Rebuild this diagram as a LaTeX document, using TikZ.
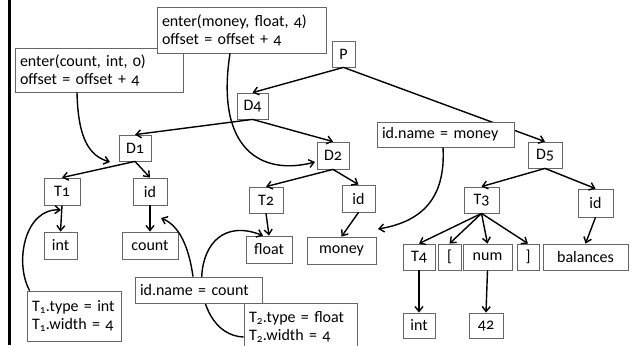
\documentclass[tikz,border=0pt]{standalone}
\usepackage{fontspec}
\setmainfont{Carlito}[Numbers=OldStyle]
\usetikzlibrary{arrows.meta}
\tikzset{
  box/.style={draw=black!60, line width=0.8pt, fill=white, inner sep=0pt,
    font=\fontsize{16}{18}\selectfont},
  tbox/.style={box, align=left, inner sep=5pt},
  edge/.style={line width=1.4pt, -{Straight Barb[length=5pt,width=8pt]}},
  curve/.style={line width=1.4pt, -{Straight Barb[length=5pt,width=8pt]}},
}
\newcommand\mybox[7][]{\node[box,#1,minimum width={(#5-#3)*1pt},minimum height={(#6-#4)*1pt}] (#2) at ({(#3+#5)/2},{(#4+#6)/2}) {#7};}
\begin{document}
\begin{tikzpicture}[x=1pt,y=-1pt]
\clip (0,0) rectangle (631,345);
\fill[white] (0,0) rectangle (631,345);
\draw[line width=2.5pt] (9.5,0) -- (9.5,345);
% tree nodes
\mybox{P}{332}{41}{355}{67}{P}
\mybox{D4}{237}{93}{268}{119}{D4}
\mybox{D1}{119}{135}{151}{161}{D1}
\mybox{D2}{317}{142}{349}{169}{D2}
\mybox{D5}{528}{142}{562}{168}{D5}
\mybox{T1}{44}{178}{80}{205}{T1}
\mybox{idA}{133}{178}{167}{205}{id}
\mybox{intA}{44}{232}{77}{259}{int}
\mybox{count}{122}{232}{178}{259}{count}
\mybox{T2}{249}{187}{283}{213}{T2}
\mybox{float}{246}{236}{292}{263}{float}
\mybox{idB}{342}{185}{375}{212}{id}
\mybox{money}{307}{237}{376}{264}{money}
\mybox{T3}{464}{187}{499}{213}{T3}
\mybox{idC}{578}{189}{613}{217}{id}
\mybox{T4}{403}{244}{435}{270}{T4}
\mybox{lb}{438}{244}{461}{270}{[}
\mybox{num}{463}{244}{512}{270}{num}
\mybox{rb}{517}{244}{539}{270}{]}
\mybox{balances}{543}{244}{628}{270}{balances}
\mybox{intB}{403}{313}{435}{338}{int}
\mybox{n42}{469}{313}{503}{338}{42}
% tree edges
\draw[edge] (P.south) -- (D4.north);
\draw[edge] (P.south) -- (D5.north);
\draw[edge] (D4.south) -- (D1.north);
\draw[edge] (D4.south) -- (D2.north);
\draw[edge] (D1.south) -- (T1.north);
\draw[edge] (D1.south) -- (idA.north);
\draw[edge] (D2.south) -- (T2.north);
\draw[edge] (D2.south) -- (idB.north);
\draw[edge] (D5.south) -- (T3.north);
\draw[edge] (D5.south) -- (idC.north);
\draw[edge] (T1.south) -- (intA.north);
\draw[edge] (idA.south) -- (count.north);
\draw[edge] (T2.south) -- (float.north);
\draw[edge] (idB.south) -- (money.north);
\draw[edge] (T3.south) -- (T4.north);
\draw[edge] (T3.south) -- (lb.north);
\draw[edge] (T3.south) -- (num.north);
\draw[edge] (T3.south) -- (rb.north);
\draw[edge] (idC.south) -- (balances.north);
\draw[edge] (T4.south) -- (intB.north);
\draw[edge] (num.south) -- (n42.north);
% annotation boxes
\mybox[tbox,text width=158pt]{enterCount}{15}{48}{183}{92}{enter(count, int, 0)\\offset = offset + 4}
\mybox[tbox,text width=159pt]{enterMoney}{157}{7}{326}{53}{enter(money, float, 4)\\offset = offset + 4}
\mybox[tbox,text width=84pt]{T1type}{27}{291}{121}{341}{T\textsubscript{1}.type = int\\T\textsubscript{1}.width = 4}
\mybox[tbox,text width=103pt]{T2type}{244}{303}{357}{351}{T\textsubscript{2}.type = float\\T\textsubscript{2}.width = 4}
\draw[curve] ([yshift=-10pt]T2type.west) .. controls (185,335) and (185,205) .. ([xshift=-6pt]float.north);
\mybox[tbox,text width=117pt]{nameCount}{135}{277}{262}{303}{id.name = count}
\mybox[tbox,text width=127pt]{nameMoney}{377}{122}{514}{147}{id.name = money}
% annotation arrows
\coordinate (c1) at (110,162);
\coordinate (c2) at (315,162);
\coordinate (c3) at (378,229);
\coordinate (c4) at (61,210);
\coordinate (c5) at (161,218);
\draw[curve] ([xshift=-22pt]enterCount.south) .. controls (78,140) and (90,156) .. (c1);
\draw[curve] ([xshift=-11.5pt]enterMoney.south) .. controls (215,150) and (262,176) .. (c2);
\draw[curve] ([xshift=-2.5pt]nameMoney.south) .. controls (446,200) and (420,222) .. (c3);
\draw[curve] ([xshift=3pt]T1type.north west) .. controls (14,262) and (25,208) .. (c4);
\draw[curve] ([xshift=-5.5pt]nameCount.north) .. controls (189,248) and (180,226) .. (c5);
\end{tikzpicture}
\end{document}
